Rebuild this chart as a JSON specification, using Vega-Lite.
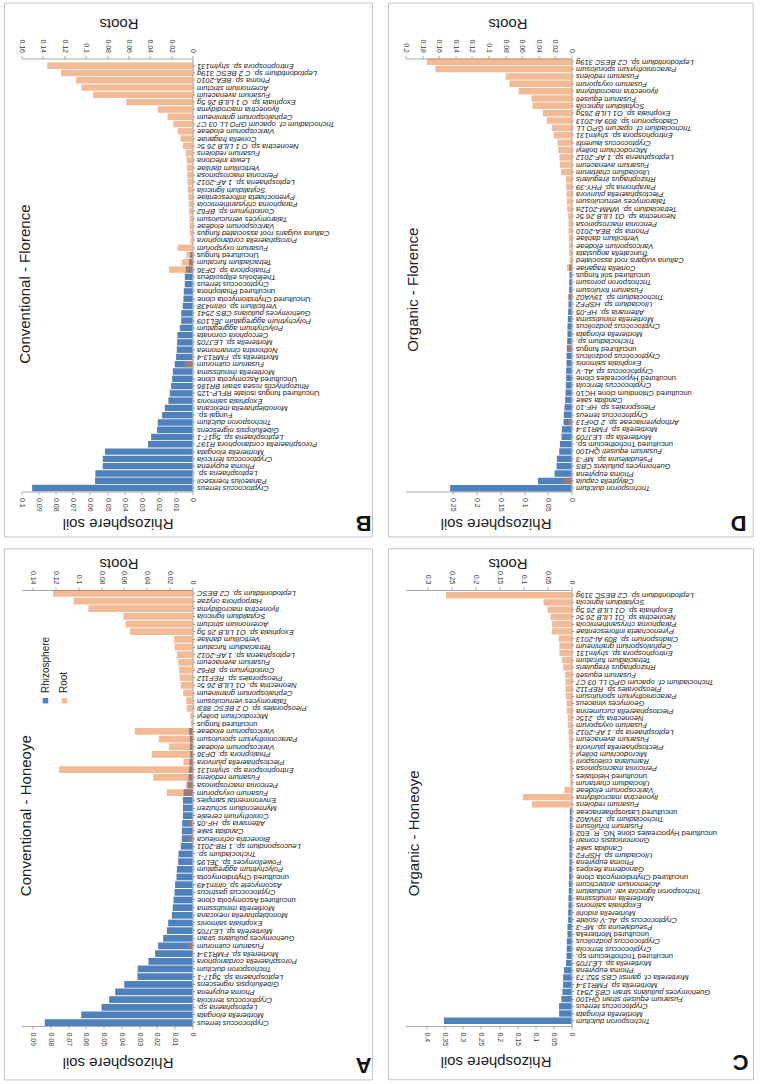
{
  "$schema": "https://vega.github.io/schema/vega-lite/v6.json",
  "background": "white",
  "padding": {"left": 3.5, "top": 2.5, "right": 0, "bottom": 3},
  "config": {"font": "Liberation Sans", "view": {"stroke": null}, "axis": {"grid": false, "labelOverlap": false}},
  "columns": 2,
  "spacing": {"row": 98.5, "column": 213},
  "bounds": "flush",
  "datasets": {
    "B": [
      {"species": "Entrophospora sp. shylm131", "rhizosphere": 0, "root": 0.136},
      {"species": "Leptodontidium sp. C 2 BESC 319g", "rhizosphere": 0, "root": 0.123},
      {"species": "Phoma sp. BEA-2010", "rhizosphere": 0, "root": 0.109},
      {"species": "Acremonium strictum", "rhizosphere": 0, "root": 0.104},
      {"species": "Fusarium avenaceum", "rhizosphere": 0, "root": 0.093},
      {"species": "Exophiala sp. O 1 LILB 26 5g", "rhizosphere": 0, "root": 0.062},
      {"species": "Ilyonectria macrodidyma", "rhizosphere": 0, "root": 0.0325},
      {"species": "Cephalosporium gramineum", "rhizosphere": 0, "root": 0.0234},
      {"species": "Trichocladium cf. opacum GPO LL 03 C7", "rhizosphere": 0, "root": 0.018},
      {"species": "Varicosporium elodeae", "rhizosphere": 0, "root": 0.0138},
      {"species": "Coniella fragariae", "rhizosphere": 0, "root": 0.0113},
      {"species": "Neonectria sp. O 1 LILB 26 5c", "rhizosphere": 0, "root": 0.009},
      {"species": "Fusarium redolens", "rhizosphere": 0, "root": 0.0063},
      {"species": "Lewia infectoria", "rhizosphere": 0, "root": 0.0056},
      {"species": "Verticillium dahliae", "rhizosphere": 0, "root": 0.0053},
      {"species": "Periconia macrospinosa", "rhizosphere": 0, "root": 0.005},
      {"species": "Leptosphaeria sp. 1 AF-2012", "rhizosphere": 0, "root": 0.0047},
      {"species": "Scytalidium lignicola", "rhizosphere": 0, "root": 0.0044},
      {"species": "Pyrenochaeta inflorescentiae", "rhizosphere": 0, "root": 0.0038},
      {"species": "Paraphoma chrysanthemicola", "rhizosphere": 0, "root": 0.0034},
      {"species": "Coniothyrium sp. BF62", "rhizosphere": 0, "root": 0.0031},
      {"species": "Talaromyces verruculosum", "rhizosphere": 0, "root": 0.0028},
      {"species": "Varicosporium elodeae\u200b", "rhizosphere": 0, "root": 0.0028},
      {"species": "Calluna vulgaris root associated fungus", "rhizosphere": 0, "root": 0.0025},
      {"species": "Porosphaerella cordanophora", "rhizosphere": 0, "root": 0.0019},
      {"species": "Fusarium oxysporum", "rhizosphere": 0, "root": 0.014},
      {"species": "Uncultured fungus", "rhizosphere": 0.0014, "root": 0.0056},
      {"species": "Tetracladium furcatum", "rhizosphere": 0.002, "root": 0.01},
      {"species": "Phialophora sp. DF36", "rhizosphere": 0.0039, "root": 0.022},
      {"species": "Thelebolus ellipsoideus", "rhizosphere": 0.0045, "root": 0},
      {"species": "Cryptococcus terreus", "rhizosphere": 0.0045, "root": 0},
      {"species": "uncultured Phialophora", "rhizosphere": 0.0051, "root": 0},
      {"species": "Uncultured Chytridiomycota clone", "rhizosphere": 0.0053, "root": 0},
      {"species": "Verticillium sp. olrim438", "rhizosphere": 0.0057, "root": 0},
      {"species": "Guehomyces pullulans  CBS 2541", "rhizosphere": 0.0066, "root": 0},
      {"species": "Polychytrium aggregatum  JEL109", "rhizosphere": 0.0066, "root": 0},
      {"species": "Polychytrium aggregatum", "rhizosphere": 0.0074, "root": 0},
      {"species": "Cercophora coronata", "rhizosphere": 0.0088, "root": 0},
      {"species": "Mortierella sp. LEJ705", "rhizosphere": 0.009, "root": 0},
      {"species": "Nothonitra cinnamomea", "rhizosphere": 0.0092, "root": 0},
      {"species": "Mortierella sp. FMR13-4", "rhizosphere": 0.0096, "root": 0},
      {"species": "Fusarium culmorum", "rhizosphere": 0.0104, "root": 0.0072},
      {"species": "Mortierella minutissima", "rhizosphere": 0.0115, "root": 0},
      {"species": "Uncultured Ascomycota clone", "rhizosphere": 0.0119, "root": 0},
      {"species": "Rhizophlyctis rosea strain BR186", "rhizosphere": 0.0125, "root": 0},
      {"species": "Uncultured fungus isolate RFLP-125", "rhizosphere": 0.0133, "root": 0},
      {"species": "Exophiala salmonis", "rhizosphere": 0.0141, "root": 0},
      {"species": "Monoblepharella mexicana", "rhizosphere": 0.0162, "root": 0},
      {"species": "Fungal sp.", "rhizosphere": 0.0178, "root": 0},
      {"species": "Trichosporon dulcitum", "rhizosphere": 0.0203, "root": 0},
      {"species": "Gibellulopsis nigrescens", "rhizosphere": 0.0207, "root": 0},
      {"species": "Leptosphaeria sp. 5g17-1", "rhizosphere": 0.0242, "root": 0},
      {"species": "Porosphaerella cordanophora R197", "rhizosphere": 0.026, "root": 0},
      {"species": "Mortierella elongata", "rhizosphere": 0.0512, "root": 0},
      {"species": "Cryptococcus terricola", "rhizosphere": 0.0525, "root": 0},
      {"species": "Phoma eupyrena", "rhizosphere": 0.0525, "root": 0},
      {"species": "Leptosphaeria sp.", "rhizosphere": 0.0568, "root": 0},
      {"species": "Panaeolus foenisecii", "rhizosphere": 0.057, "root": 0},
      {"species": "Cryptococcus terreus\u200b", "rhizosphere": 0.0938, "root": 0}
    ],
    "D": [
      {"species": "Leptodontidium sp. C2 BESC 319g", "rhizosphere": 0, "root": 0.174},
      {"species": "Paraconiothyrium sporulosum", "rhizosphere": 0, "root": 0.164},
      {"species": "Fusarium redolens", "rhizosphere": 0, "root": 0.0793},
      {"species": "Fusarium oxysporum", "rhizosphere": 0, "root": 0.0748},
      {"species": "Ilyonectria macrodidyma", "rhizosphere": 0, "root": 0.0636},
      {"species": "Fusarium equiseti", "rhizosphere": 0, "root": 0.0483},
      {"species": "Scytalidium lignicola", "rhizosphere": 0, "root": 0.0471},
      {"species": "Exophiala sp. O1 LILB 265g", "rhizosphere": 0, "root": 0.0346},
      {"species": "Cladosporium sp. 809 AI-2013", "rhizosphere": 0, "root": 0.0298},
      {"species": "Trichocladium cf. opacum GPO LL", "rhizosphere": 0, "root": 0.0233},
      {"species": "Entrophospora sp. shylm131", "rhizosphere": 0, "root": 0.0213},
      {"species": "Cryptococcus laurentii", "rhizosphere": 0, "root": 0.0169},
      {"species": "Microdochium bolleyi", "rhizosphere": 0, "root": 0.0161},
      {"species": "Leptosphaeria sp. 1 AF-2012", "rhizosphere": 0, "root": 0.0145},
      {"species": "Fusarium avenaceum", "rhizosphere": 0, "root": 0.0141},
      {"species": "Ulocladium chartarum", "rhizosphere": 0, "root": 0.0125},
      {"species": "Rhizophagus irregularis", "rhizosphere": 0, "root": 0.0068},
      {"species": "Paraphoma sp. PHY-39", "rhizosphere": 0, "root": 0.0064},
      {"species": "Plectosphaerella plurivora", "rhizosphere": 0, "root": 0.006},
      {"species": "Talaromyces verruculosum", "rhizosphere": 0, "root": 0.0056},
      {"species": "Tetracladium sp. WMM-2012a", "rhizosphere": 0, "root": 0.0052},
      {"species": "Neonectria sp. O1 LILB 26 5c", "rhizosphere": 0, "root": 0.004},
      {"species": "Periconia macrospinosa", "rhizosphere": 0, "root": 0.0036},
      {"species": "Phoma sp. BEA-2010", "rhizosphere": 0, "root": 0.0036},
      {"species": "Verticillium dahliae", "rhizosphere": 0, "root": 0.0032},
      {"species": "Varicosporium elodeae", "rhizosphere": 0, "root": 0.0028},
      {"species": "Truncatella angustata", "rhizosphere": 0, "root": 0.0028},
      {"species": "Calluna vulgaris root associated", "rhizosphere": 0, "root": 0.0024},
      {"species": "Coniella fragariae", "rhizosphere": 0.005, "root": 0.0056},
      {"species": "uncultured soil fungus", "rhizosphere": 0.0042, "root": 0},
      {"species": "Trichosporon porosum", "rhizosphere": 0.0049, "root": 0},
      {"species": "Fusarium torulosum", "rhizosphere": 0.0049, "root": 0},
      {"species": "Trichocladium sp. 19VA02", "rhizosphere": 0.0063, "root": 0.0036},
      {"species": "Ulocladium sp. HSPF2", "rhizosphere": 0.0063, "root": 0},
      {"species": "Alternaria sp. HF-05", "rhizosphere": 0.007, "root": 0},
      {"species": "Mortierella minutissima", "rhizosphere": 0.0077, "root": 0},
      {"species": "Cryptococcus podzolicus", "rhizosphere": 0.0084, "root": 0},
      {"species": "Mortierella elongata", "rhizosphere": 0.0084, "root": 0},
      {"species": "Trichocladium sp.", "rhizosphere": 0.0091, "root": 0},
      {"species": "uncultured fungus", "rhizosphere": 0.0098, "root": 0.004},
      {"species": "Cryptococcus podzolicus\u200b", "rhizosphere": 0.0105, "root": 0},
      {"species": "Exophiala salmonis", "rhizosphere": 0.0105, "root": 0},
      {"species": "Cryptococcus sp. AL-V", "rhizosphere": 0.0112, "root": 0},
      {"species": "uncultured Hypocreales clone", "rhizosphere": 0.0112, "root": 0},
      {"species": "Cryptococcus terricola", "rhizosphere": 0.0119, "root": 0},
      {"species": "uncultured Chloridium clone HC10", "rhizosphere": 0.0126, "root": 0},
      {"species": "Candida sake", "rhizosphere": 0.0133, "root": 0},
      {"species": "Pleosporales sp. HF-10", "rhizosphere": 0.0147, "root": 0},
      {"species": "Cryptococcus terreus", "rhizosphere": 0.0161, "root": 0},
      {"species": "Arthopyreniaceae sp. 2 DoF13", "rhizosphere": 0.0168, "root": 0.004},
      {"species": "Mortierella sp. FMR13-4", "rhizosphere": 0.0203, "root": 0},
      {"species": "Mortierella sp. LEJ705", "rhizosphere": 0.021, "root": 0},
      {"species": "uncultured Trichothecium sp.", "rhizosphere": 0.0245, "root": 0},
      {"species": "Fusarium equiseti QH100", "rhizosphere": 0.0259, "root": 0},
      {"species": "Pseudaleuria sp. MF-3", "rhizosphere": 0.0308, "root": 0},
      {"species": "Guehomyces pullulans CBS", "rhizosphere": 0.0315, "root": 0},
      {"species": "Phoma eupyrena", "rhizosphere": 0.0357, "root": 0},
      {"species": "Calyptella capula", "rhizosphere": 0.0707, "root": 0.0089},
      {"species": "Trichosporon dulcitum", "rhizosphere": 0.2556, "root": 0}
    ],
    "A": [
      {"species": "Leptodontidium sp. C2 BESC", "rhizosphere": 0, "root": 0.122},
      {"species": "Harpophora oryzae", "rhizosphere": 0, "root": 0.104},
      {"species": "Ilyonectria macrodidyma", "rhizosphere": 0, "root": 0.091},
      {"species": "Scytalidium lignicola", "rhizosphere": 0, "root": 0.0604},
      {"species": "Acremonium strictum", "rhizosphere": 0, "root": 0.0586},
      {"species": "Exophiala sp. O1 LILB 26 5g", "rhizosphere": 0, "root": 0.0548},
      {"species": "Verticillium dahliae", "rhizosphere": 0, "root": 0.0163},
      {"species": "Tetracladium furcatum", "rhizosphere": 0, "root": 0.0155},
      {"species": "Leptosphaeria sp. 1 AF-2012", "rhizosphere": 0, "root": 0.0137},
      {"species": "Fusarium avenaceum", "rhizosphere": 0, "root": 0.0125},
      {"species": "Coniothyrium sp. BF62", "rhizosphere": 0, "root": 0.0117},
      {"species": "Pleosporales sp. REF112", "rhizosphere": 0, "root": 0.0111},
      {"species": "Neonectria sp. O1 LILB 26 5c", "rhizosphere": 0, "root": 0.0102},
      {"species": "Cephalosporium gramineum", "rhizosphere": 0, "root": 0.0082},
      {"species": "Talaromyces verruculosum", "rhizosphere": 0, "root": 0.0055},
      {"species": "Pleosporales sp. O 2 BESC 883i", "rhizosphere": 0, "root": 0.0052},
      {"species": "Microdochium bolleyi", "rhizosphere": 0, "root": 0.002},
      {"species": "uncultured fungus", "rhizosphere": 0, "root": 0.0015},
      {"species": "Varicosporium elodeae", "rhizosphere": 0.0019, "root": 0.0505},
      {"species": "Paraconiothyrium sporulosum", "rhizosphere": 0.0015, "root": 0.0295},
      {"species": "Varicosporium elodeae\u200b", "rhizosphere": 0.0015, "root": 0.0207},
      {"species": "Phialophora sp. DF36", "rhizosphere": 0.0013, "root": 0.0356},
      {"species": "Plectosphaerella plurivora", "rhizosphere": 0.0017, "root": 0.0079},
      {"species": "Entrophospora sp. shylm131", "rhizosphere": 0.0019, "root": 0.1167},
      {"species": "Fusarium redolens", "rhizosphere": 0.0023, "root": 0.0344},
      {"species": "Periconia macrospinosa", "rhizosphere": 0.0028, "root": 0.0058},
      {"species": "Fusarium oxysporum", "rhizosphere": 0.005, "root": 0.0225},
      {"species": "Environmental samples", "rhizosphere": 0.0054, "root": 0},
      {"species": "Myrmecridium schulzeri", "rhizosphere": 0.0054, "root": 0},
      {"species": "Coniothyrium cereale", "rhizosphere": 0.0054, "root": 0},
      {"species": "Alternaria sp. HF-05", "rhizosphere": 0.0058, "root": 0.003},
      {"species": "Candida sake", "rhizosphere": 0.006, "root": 0},
      {"species": "Bionectria ochroleuca", "rhizosphere": 0.006, "root": 0.003},
      {"species": "Leucosporidium sp. 1 RB-2011", "rhizosphere": 0.0066, "root": 0},
      {"species": "Trichocladium sp.", "rhizosphere": 0.0079, "root": 0},
      {"species": "Powellomyces sp. JEL95", "rhizosphere": 0.0081, "root": 0},
      {"species": "Polychytrium aggregatum", "rhizosphere": 0.0088, "root": 0},
      {"species": "uncultured Chytridiomycota", "rhizosphere": 0.009, "root": 0},
      {"species": "Ascomycete sp. olrim149", "rhizosphere": 0.0098, "root": 0},
      {"species": "Cryptococcus gastricus", "rhizosphere": 0.0101, "root": 0},
      {"species": "uncultured Ascomycota clone", "rhizosphere": 0.0107, "root": 0},
      {"species": "Mortierella minutissima", "rhizosphere": 0.0111, "root": 0},
      {"species": "Monoblepharella mexicana", "rhizosphere": 0.0116, "root": 0},
      {"species": "Exophiala salmonis", "rhizosphere": 0.0137, "root": 0},
      {"species": "Mortierella sp. LEJ705", "rhizosphere": 0.0144, "root": 0},
      {"species": "Guehomyces pullulans strain", "rhizosphere": 0.0165, "root": 0},
      {"species": "Fusarium culmorum", "rhizosphere": 0.0193, "root": 0.0035},
      {"species": "Mortierella sp. FMR13-4", "rhizosphere": 0.021, "root": 0},
      {"species": "Porosphaerella cordanophora", "rhizosphere": 0.0248, "root": 0},
      {"species": "Trichosporon dulcitum", "rhizosphere": 0.0308, "root": 0},
      {"species": "Leptosphaeria sp. 5g17-1", "rhizosphere": 0.031, "root": 0},
      {"species": "Gibellulopsis nigrescens", "rhizosphere": 0.0384, "root": 0},
      {"species": "Phoma eupyrena", "rhizosphere": 0.0435, "root": 0},
      {"species": "Cryptococcus terricola", "rhizosphere": 0.0469, "root": 0},
      {"species": "Leptosphaeria sp.", "rhizosphere": 0.0512, "root": 0},
      {"species": "Mortierella elongata", "rhizosphere": 0.0626, "root": 0},
      {"species": "Cryptococcus terreus", "rhizosphere": 0.0831, "root": 0}
    ],
    "C": [
      {"species": "Leptodontidium sp. C2 BESC 319g", "rhizosphere": 0, "root": 0.2617},
      {"species": "Scytalidium lignicola", "rhizosphere": 0, "root": 0.058},
      {"species": "Exophiala sp. O1 LILB 26 5g", "rhizosphere": 0, "root": 0.0502},
      {"species": "Neonectria sp. O1 LILB 26 5c", "rhizosphere": 0, "root": 0.044},
      {"species": "Paraphoma chrysanthemicola", "rhizosphere": 0, "root": 0.0405},
      {"species": "Pyrenochaeta inflorescentiae", "rhizosphere": 0, "root": 0.0405},
      {"species": "Cladosporium sp. 809 AI-2013", "rhizosphere": 0, "root": 0.0265},
      {"species": "Cephalosporium gramineum", "rhizosphere": 0, "root": 0.0251},
      {"species": "Entrophospora sp. shylm131", "rhizosphere": 0, "root": 0.0251},
      {"species": "Tetracladium furcatum", "rhizosphere": 0, "root": 0.0202},
      {"species": "Rhizophagus irregularis", "rhizosphere": 0, "root": 0.0174},
      {"species": "Fusarium equiseti", "rhizosphere": 0, "root": 0.0133},
      {"species": "Trichocladium cf. opacum GPO LL 03 C7", "rhizosphere": 0, "root": 0.0126},
      {"species": "Pleosporales sp. REF112", "rhizosphere": 0, "root": 0.0126},
      {"species": "Paraconiothyrium sporulosum", "rhizosphere": 0, "root": 0.0119},
      {"species": "Geomyces vinaceus", "rhizosphere": 0, "root": 0.0105},
      {"species": "Plectosphaerella cucumerina", "rhizosphere": 0, "root": 0.0098},
      {"species": "Neonectria sp. 215c", "rhizosphere": 0, "root": 0.0077},
      {"species": "Fusarium oxysporum", "rhizosphere": 0, "root": 0.007},
      {"species": "Leptosphaeria sp. 1 AF-2012", "rhizosphere": 0, "root": 0.0063},
      {"species": "Fusarium avenaceum", "rhizosphere": 0, "root": 0.0056},
      {"species": "Plectosphaerella plurivora", "rhizosphere": 0, "root": 0.0049},
      {"species": "Microdochium bolleyi", "rhizosphere": 0, "root": 0.0042},
      {"species": "Ramularia coleosporii", "rhizosphere": 0, "root": 0.0042},
      {"species": "Periconia macrospinosa", "rhizosphere": 0, "root": 0.0035},
      {"species": "uncultured Helotiales", "rhizosphere": 0, "root": 0.0028},
      {"species": "Ulocladium chartarum", "rhizosphere": 0, "root": 0.0028},
      {"species": "Varicosporium elodeae", "rhizosphere": 0, "root": 0.0147},
      {"species": "Ilyonectria macrodidyma", "rhizosphere": 0, "root": 0.1012},
      {"species": "Fusarium redolens", "rhizosphere": 0, "root": 0.0823},
      {"species": "uncultured Lasiosphaeriaceae", "rhizosphere": 0.0046, "root": 0},
      {"species": "Trichocladium sp. 19VA02", "rhizosphere": 0.0046, "root": 0},
      {"species": "Fusarium torulosum", "rhizosphere": 0.0046, "root": 0},
      {"species": "uncultured Hypocreales clone NG_R_E02", "rhizosphere": 0.0046, "root": 0},
      {"species": "Gnomoniopsis comari", "rhizosphere": 0.0056, "root": 0},
      {"species": "Candida sake", "rhizosphere": 0.0056, "root": 0},
      {"species": "Ulocladium sp. HSPF2", "rhizosphere": 0.0056, "root": 0},
      {"species": "Phoma eupyrena", "rhizosphere": 0.0056, "root": 0},
      {"species": "Ganoderma flexipes", "rhizosphere": 0.0065, "root": 0},
      {"species": "uncultured Chytridiomycota clone", "rhizosphere": 0.0065, "root": 0},
      {"species": "Acremonium antarcticum", "rhizosphere": 0.0074, "root": 0},
      {"species": "Trichosporon lignicola var. undulatum", "rhizosphere": 0.0074, "root": 0},
      {"species": "Mortierella minutissima", "rhizosphere": 0.0083, "root": 0},
      {"species": "Exophiala salmonis", "rhizosphere": 0.0083, "root": 0},
      {"species": "Mortierella indohii", "rhizosphere": 0.0093, "root": 0},
      {"species": "Cryptococcus sp. AL-V isolate", "rhizosphere": 0.0093, "root": 0},
      {"species": "Pseudaleuria sp. MF-3", "rhizosphere": 0.0111, "root": 0},
      {"species": "uncultured Mortierella", "rhizosphere": 0.0111, "root": 0},
      {"species": "Cryptococcus podzolicus", "rhizosphere": 0.013, "root": 0},
      {"species": "Cryptococcus terricola", "rhizosphere": 0.013, "root": 0},
      {"species": "uncultured Trichothecium sp.", "rhizosphere": 0.0139, "root": 0},
      {"species": "Mortierella sp. LEJ705", "rhizosphere": 0.0148, "root": 0},
      {"species": "Phoma eupyrena\u200b", "rhizosphere": 0.0204, "root": 0},
      {"species": "Mortierella cf. gamsii CBS 552.73", "rhizosphere": 0.0231, "root": 0},
      {"species": "Mortierella sp. FMR13-4", "rhizosphere": 0.0231, "root": 0},
      {"species": "Guehomyces pullulans strain CBS 2541", "rhizosphere": 0.025, "root": 0},
      {"species": "Fusarium equiseti strain QH100", "rhizosphere": 0.0278, "root": 0},
      {"species": "Cryptococcus terreus", "rhizosphere": 0.0343, "root": 0},
      {"species": "Mortierella elongata", "rhizosphere": 0.0343, "root": 0},
      {"species": "Trichosporon dulcitum", "rhizosphere": 0.352, "root": 0}
    ]
  },
  "concat": [
    {
      "width": 171, "height": 433,
      "data": {"name": "B"},
      "layer": [
        {"mark": {"type": "bar", "color": "#4f81bd"},
         "encoding": {
           "y": {"field": "species", "type": "nominal", "sort": null, "title": null,
             "scale": {"paddingInner": 0.12, "paddingOuter": 0.3, "align": 0.93},
             "axis": {"orient": "right", "title": null, "labelAngle": 180, "labelAlign": "right", "labelBaseline": "middle", "labelFontSize": 7.6, "labelFontStyle": {"condition": {"test": "indexof(lower(datum.value), 'uncultured') === 0 || indexof(datum.value, 'Environmental') === 0 || indexof(datum.value, 'Fungal') === 0", "value": "normal"}, "value": "italic"}, "labelColor": "#1a1a1a", "labelPadding": 2, "labelOverlap": false, "labelLimit": 300, "tickSize": 2, "tickColor": "#999", "domainColor": "#999"}},
           "x": {"field": "rhizosphere", "type": "quantitative",
             "scale": {"domain": [0, 0.1], "reverse": true, "nice": false, "zero": true},
             "axis": {"orient": "bottom", "values": [0, 0.01, 0.02, 0.03, 0.04, 0.05, 0.06, 0.07, 0.08, 0.09, 0.1], "format": "~g", "title": "Rhizosphere soil", "titleX": 96, "titleY": 31.5, "labelAngle": 90, "labelAlign": "left", "labelBaseline": "middle", "labelFontSize": 7, "labelColor": "#404040", "labelPadding": 3, "labelFlush": false, "labelOverlap": false, "tickSize": 3, "tickColor": "#aaa", "domainColor": "#aaa", "titleFontSize": 15, "titleFontWeight": "normal", "titleColor": "#222", "titleAngle": 180, "titleAlign": "center", "titleBaseline": "middle"}}
         }},
        {"mark": {"type": "bar", "color": "#e8762d", "opacity": 0.5},
         "encoding": {
           "y": {"field": "species", "type": "nominal", "sort": null, "title": null},
           "x": {"field": "root", "type": "quantitative",
             "scale": {"domain": [0, 0.16], "reverse": true, "nice": false, "zero": true},
             "axis": {"orient": "top", "values": [0, 0.02, 0.04, 0.06, 0.08, 0.1, 0.12, 0.14, 0.16], "format": "~g", "title": "Roots", "titleX": 97, "titleY": -35.5, "labelAngle": 90, "labelAlign": "right", "labelBaseline": "middle", "labelFontSize": 7, "labelColor": "#404040", "labelPadding": 3, "labelFlush": false, "labelOverlap": false, "tickSize": 3, "tickColor": "#aaa", "domainColor": "#aaa", "titleFontSize": 15, "titleFontWeight": "normal", "titleColor": "#222", "titleAngle": 180, "titleAlign": "center", "titleBaseline": "middle"}}
         }},
        {"data": {"values": [{}]},
         "mark": {"type": "text", "text": "Conventional - Florence", "angle": 270, "fontSize": 15, "align": "center", "baseline": "middle", "color": "#222"},
         "encoding": {
           "x": {"datum": 0.1563, "type": "quantitative", "scale": {"domain": [0, 0.16], "reverse": true, "nice": false, "zero": true}, "axis": null},
           "y": {"datum": "Cryptococcus terreus", "type": "nominal"}
         }},
        {"data": {"values": [{}]},
         "mark": {"type": "text", "text": "B", "angle": 180, "fontSize": 22, "fontWeight": "bold", "align": "center", "baseline": "middle", "dy": -35, "color": "#111"},
         "encoding": {
           "x": {"datum": -0.16, "type": "quantitative", "scale": {"domain": [0, 0.16], "reverse": true, "nice": false, "zero": true}, "axis": null},
           "y": {"datum": "Cryptococcus terreus\u200b", "type": "nominal"}
         }},
        {"data": {"values": [{}]},
         "mark": {"type": "rect", "filled": false, "stroke": "#c4c4c4", "strokeWidth": 1, "yOffset": -62.75, "y2Offset": 49},
         "encoding": {
           "x": {"datum": 0.1759, "type": "quantitative", "scale": {"domain": [0, 0.16], "reverse": true, "nice": false, "zero": true}, "axis": null},
           "x2": {"datum": -0.1684},
           "y": {"datum": "Entrophospora sp. shylm131", "type": "nominal"},
           "y2": {"datum": "Cryptococcus terreus\u200b"}
         }}
      ],
      "resolve": {"scale": {"x": "independent"}, "axis": {"x": "independent"}}
    },
    {
      "width": 166, "height": 433,
      "data": {"name": "D"},
      "layer": [
        {"mark": {"type": "bar", "color": "#4f81bd"},
         "encoding": {
           "y": {"field": "species", "type": "nominal", "sort": null, "title": null,
             "scale": {"paddingInner": 0.12, "paddingOuter": 0, "align": 0.5},
             "axis": {"orient": "right", "title": null, "labelAngle": 180, "labelAlign": "right", "labelBaseline": "middle", "labelFontSize": 7.6, "labelFontStyle": {"condition": {"test": "indexof(lower(datum.value), 'uncultured') === 0 || indexof(datum.value, 'Environmental') === 0 || indexof(datum.value, 'Fungal') === 0", "value": "normal"}, "value": "italic"}, "labelColor": "#1a1a1a", "labelPadding": 2, "labelOverlap": false, "labelLimit": 300, "tickSize": 2, "tickColor": "#999", "domainColor": "#999"}},
           "x": {"field": "rhizosphere", "type": "quantitative",
             "scale": {"domain": [0, 0.3496], "reverse": true, "nice": false, "zero": true},
             "axis": {"orient": "bottom", "values": [0, 0.05, 0.1, 0.15, 0.2, 0.25], "format": "~g", "title": "Rhizosphere soil", "titleX": 90, "titleY": 31.5, "labelAngle": 90, "labelAlign": "left", "labelBaseline": "middle", "labelFontSize": 7, "labelColor": "#404040", "labelPadding": 3, "labelFlush": false, "labelOverlap": false, "tickSize": 3, "tickColor": "#aaa", "domainColor": "#aaa", "titleFontSize": 15, "titleFontWeight": "normal", "titleColor": "#222", "titleAngle": 180, "titleAlign": "center", "titleBaseline": "middle"}}
         }},
        {"mark": {"type": "bar", "color": "#e8762d", "opacity": 0.5},
         "encoding": {
           "y": {"field": "species", "type": "nominal", "sort": null, "title": null},
           "x": {"field": "root", "type": "quantitative",
             "scale": {"domain": [0, 0.2], "reverse": true, "nice": false, "zero": true},
             "axis": {"orient": "top", "values": [0, 0.02, 0.04, 0.06, 0.08, 0.1, 0.12, 0.14, 0.16, 0.18, 0.2], "format": "~g", "title": "Roots", "titleX": 102, "titleY": -35.5, "labelAngle": 90, "labelAlign": "right", "labelBaseline": "middle", "labelFontSize": 7, "labelColor": "#404040", "labelPadding": 3, "labelFlush": false, "labelOverlap": false, "tickSize": 3, "tickColor": "#aaa", "domainColor": "#aaa", "titleFontSize": 15, "titleFontWeight": "normal", "titleColor": "#222", "titleAngle": 180, "titleAlign": "center", "titleBaseline": "middle"}}
         }},
        {"data": {"values": [{}]},
         "mark": {"type": "text", "text": "Organic - Florence", "angle": 270, "fontSize": 15, "align": "center", "baseline": "middle", "color": "#222"},
         "encoding": {
           "x": {"datum": 0.1904, "type": "quantitative", "scale": {"domain": [0, 0.2], "reverse": true, "nice": false, "zero": true}, "axis": null},
           "y": {"datum": "Fusarium torulosum", "type": "nominal"}
         }},
        {"data": {"values": [{}]},
         "mark": {"type": "text", "text": "D", "angle": 180, "fontSize": 22, "fontWeight": "bold", "align": "center", "baseline": "middle", "dy": -35, "color": "#111"},
         "encoding": {
           "x": {"datum": -0.2012, "type": "quantitative", "scale": {"domain": [0, 0.2], "reverse": true, "nice": false, "zero": true}, "axis": null},
           "y": {"datum": "Trichosporon dulcitum", "type": "nominal"}
         }},
        {"data": {"values": [{}]},
         "mark": {"type": "rect", "filled": false, "stroke": "#c4c4c4", "strokeWidth": 1, "yOffset": -58.7, "y2Offset": 48.7},
         "encoding": {
           "x": {"datum": 0.2205, "type": "quantitative", "scale": {"domain": [0, 0.2], "reverse": true, "nice": false, "zero": true}, "axis": null},
           "x2": {"datum": -0.2189},
           "y": {"datum": "Leptodontidium sp. C2 BESC 319g", "type": "nominal"},
           "y2": {"datum": "Trichosporon dulcitum"}
         }}
      ],
      "resolve": {"scale": {"x": "independent"}, "axis": {"x": "independent"}}
    },
    {
      "width": 171, "height": 436,
      "data": {"name": "A"},
      "layer": [
        {"mark": {"type": "bar", "color": "#4f81bd"},
         "encoding": {
           "y": {"field": "species", "type": "nominal", "sort": null, "title": null,
             "scale": {"paddingInner": 0.12, "paddingOuter": 0, "align": 0.5},
             "axis": {"orient": "right", "title": null, "labelAngle": 180, "labelAlign": "right", "labelBaseline": "middle", "labelFontSize": 7.6, "labelFontStyle": {"condition": {"test": "indexof(lower(datum.value), 'uncultured') === 0 || indexof(datum.value, 'Environmental') === 0 || indexof(datum.value, 'Fungal') === 0", "value": "normal"}, "value": "italic"}, "labelColor": "#1a1a1a", "labelPadding": 2, "labelOverlap": false, "labelLimit": 300, "tickSize": 2, "tickColor": "#999", "domainColor": "#999"}},
           "x": {"field": "rhizosphere", "type": "quantitative",
             "scale": {"domain": [0, 0.0962], "reverse": true, "nice": false, "zero": true},
             "axis": {"orient": "bottom", "values": [0, 0.01, 0.02, 0.03, 0.04, 0.05, 0.06, 0.07, 0.08, 0.09], "format": "~g", "title": "Rhizosphere soil", "titleX": 96, "titleY": 36, "labelAngle": 90, "labelAlign": "left", "labelBaseline": "middle", "labelFontSize": 7, "labelColor": "#404040", "labelPadding": 3, "labelFlush": false, "labelOverlap": false, "tickSize": 3, "tickColor": "#aaa", "domainColor": "#aaa", "titleFontSize": 15, "titleFontWeight": "normal", "titleColor": "#222", "titleAngle": 180, "titleAlign": "center", "titleBaseline": "middle"}}
         }},
        {"mark": {"type": "bar", "color": "#e8762d", "opacity": 0.5},
         "encoding": {
           "y": {"field": "species", "type": "nominal", "sort": null, "title": null},
           "x": {"field": "root", "type": "quantitative",
             "scale": {"domain": [0, 0.1496], "reverse": true, "nice": false, "zero": true},
             "axis": {"orient": "top", "values": [0, 0.02, 0.04, 0.06, 0.08, 0.1, 0.12, 0.14], "format": "~g", "title": "Roots", "titleX": 97, "titleY": -27, "labelAngle": 90, "labelAlign": "right", "labelBaseline": "middle", "labelFontSize": 7, "labelColor": "#404040", "labelPadding": 3, "labelFlush": false, "labelOverlap": false, "tickSize": 3, "tickColor": "#aaa", "domainColor": "#aaa", "titleFontSize": 15, "titleFontWeight": "normal", "titleColor": "#222", "titleAngle": 180, "titleAlign": "center", "titleBaseline": "middle"}}
         }},
        {"data": {"values": [{}]},
         "mark": {"type": "text", "text": "Conventional - Honeoye", "angle": 270, "fontSize": 15, "align": "center", "baseline": "middle", "color": "#222"},
         "encoding": {
           "x": {"datum": 0.1461, "type": "quantitative", "scale": {"domain": [0, 0.1496], "reverse": true, "nice": false, "zero": true}, "axis": null},
           "y": {"datum": "Coniothyrium cereale", "type": "nominal"}
         }},
        {"data": {"values": [{}]},
         "mark": {"type": "text", "text": "Rhizosphere", "angle": 270, "fontSize": 10, "align": "left", "baseline": "middle", "color": "#222"},
         "encoding": {
           "x": {"datum": 0.1286, "type": "quantitative", "scale": {"domain": [0, 0.1496], "reverse": true, "nice": false, "zero": true}, "axis": null},
           "y": {"datum": "Cephalosporium gramineum", "type": "nominal"}
         }},
        {"data": {"values": [{}]},
         "mark": {"type": "text", "text": "Root", "angle": 270, "fontSize": 10, "align": "left", "baseline": "middle", "color": "#222"},
         "encoding": {
           "x": {"datum": 0.112, "type": "quantitative", "scale": {"domain": [0, 0.1496], "reverse": true, "nice": false, "zero": true}, "axis": null},
           "y": {"datum": "Cephalosporium gramineum", "type": "nominal"}
         }},
        {"data": {"values": [{}]},
         "mark": {"type": "point", "shape": "square", "filled": true, "size": 30, "opacity": 1, "color": "#4f81bd"},
         "encoding": {
           "x": {"datum": 0.1286, "type": "quantitative", "scale": {"domain": [0, 0.1496], "reverse": true, "nice": false, "zero": true}, "axis": null},
           "y": {"datum": "Talaromyces verruculosum", "type": "nominal"}
         }},
        {"data": {"values": [{}]},
         "mark": {"type": "point", "shape": "square", "filled": true, "size": 30, "opacity": 1, "color": "#f3ba96"},
         "encoding": {
           "x": {"datum": 0.112, "type": "quantitative", "scale": {"domain": [0, 0.1496], "reverse": true, "nice": false, "zero": true}, "axis": null},
           "y": {"datum": "Talaromyces verruculosum", "type": "nominal"}
         }},
        {"data": {"values": [{}]},
         "mark": {"type": "text", "text": "A", "angle": 180, "fontSize": 22, "fontWeight": "bold", "align": "center", "baseline": "middle", "dy": -42.5, "color": "#111"},
         "encoding": {
           "x": {"datum": -0.1496, "type": "quantitative", "scale": {"domain": [0, 0.1496], "reverse": true, "nice": false, "zero": true}, "axis": null},
           "y": {"datum": "Cryptococcus terreus", "type": "nominal"}
         }},
        {"data": {"values": [{}]},
         "mark": {"type": "rect", "filled": false, "stroke": "#c4c4c4", "strokeWidth": 1, "yOffset": -44.5, "y2Offset": 57.3},
         "encoding": {
           "x": {"datum": 0.1645, "type": "quantitative", "scale": {"domain": [0, 0.1496], "reverse": true, "nice": false, "zero": true}, "axis": null},
           "x2": {"datum": -0.1575},
           "y": {"datum": "Leptodontidium sp. C2 BESC", "type": "nominal"},
           "y2": {"datum": "Cryptococcus terreus"}
         }}
      ],
      "resolve": {"scale": {"x": "independent"}, "axis": {"x": "independent"}}
    },
    {
      "width": 166, "height": 436,
      "data": {"name": "C"},
      "layer": [
        {"mark": {"type": "bar", "color": "#4f81bd"},
         "encoding": {
           "y": {"field": "species", "type": "nominal", "sort": null, "title": null,
             "scale": {"paddingInner": 0.12, "paddingOuter": 0.29, "align": 0.5},
             "axis": {"orient": "right", "title": null, "labelAngle": 180, "labelAlign": "right", "labelBaseline": "middle", "labelFontSize": 7.6, "labelFontStyle": {"condition": {"test": "indexof(lower(datum.value), 'uncultured') === 0 || indexof(datum.value, 'Environmental') === 0 || indexof(datum.value, 'Fungal') === 0", "value": "normal"}, "value": "italic"}, "labelColor": "#1a1a1a", "labelPadding": 2, "labelOverlap": false, "labelLimit": 300, "tickSize": 2, "tickColor": "#999", "domainColor": "#999"}},
           "x": {"field": "rhizosphere", "type": "quantitative",
             "scale": {"domain": [0, 0.458], "reverse": true, "nice": false, "zero": true},
             "axis": {"orient": "bottom", "values": [0, 0.05, 0.1, 0.15, 0.2, 0.25, 0.3, 0.35, 0.4], "format": "~g", "title": "Rhizosphere soil", "titleX": 90, "titleY": 35, "labelAngle": 90, "labelAlign": "left", "labelBaseline": "middle", "labelFontSize": 7, "labelColor": "#404040", "labelPadding": 3, "labelFlush": false, "labelOverlap": false, "tickSize": 3, "tickColor": "#aaa", "domainColor": "#aaa", "titleFontSize": 15, "titleFontWeight": "normal", "titleColor": "#222", "titleAngle": 180, "titleAlign": "center", "titleBaseline": "middle"}}
         }},
        {"mark": {"type": "bar", "color": "#e8762d", "opacity": 0.5},
         "encoding": {
           "y": {"field": "species", "type": "nominal", "sort": null, "title": null},
           "x": {"field": "root", "type": "quantitative",
             "scale": {"domain": [0, 0.3458], "reverse": true, "nice": false, "zero": true},
             "axis": {"orient": "top", "values": [0, 0.05, 0.1, 0.15, 0.2, 0.25, 0.3], "format": "~g", "title": "Roots", "titleX": 102, "titleY": -27, "labelAngle": 90, "labelAlign": "right", "labelBaseline": "middle", "labelFontSize": 7, "labelColor": "#404040", "labelPadding": 3, "labelFlush": false, "labelOverlap": false, "tickSize": 3, "tickColor": "#aaa", "domainColor": "#aaa", "titleFontSize": 15, "titleFontWeight": "normal", "titleColor": "#222", "titleAngle": 180, "titleAlign": "center", "titleBaseline": "middle"}}
         }},
        {"data": {"values": [{}]},
         "mark": {"type": "text", "text": "Organic - Honeoye", "angle": 270, "fontSize": 15, "align": "center", "baseline": "middle", "color": "#222"},
         "encoding": {
           "x": {"datum": 0.3291, "type": "quantitative", "scale": {"domain": [0, 0.3458], "reverse": true, "nice": false, "zero": true}, "axis": null},
           "y": {"datum": "uncultured Hypocreales clone NG_R_E02", "type": "nominal"}
         }},
        {"data": {"values": [{}]},
         "mark": {"type": "text", "text": "C", "angle": 180, "fontSize": 22, "fontWeight": "bold", "align": "center", "baseline": "middle", "dy": -41, "color": "#111"},
         "encoding": {
           "x": {"datum": -0.352, "type": "quantitative", "scale": {"domain": [0, 0.3458], "reverse": true, "nice": false, "zero": true}, "axis": null},
           "y": {"datum": "Trichosporon dulcitum", "type": "nominal"}
         }},
        {"data": {"values": [{}]},
         "mark": {"type": "rect", "filled": false, "stroke": "#c4c4c4", "strokeWidth": 1, "yOffset": -46.5, "y2Offset": 59},
         "encoding": {
           "x": {"datum": 0.3812, "type": "quantitative", "scale": {"domain": [0, 0.3458], "reverse": true, "nice": false, "zero": true}, "axis": null},
           "x2": {"datum": -0.3791},
           "y": {"datum": "Leptodontidium sp. C2 BESC 319g", "type": "nominal"},
           "y2": {"datum": "Trichosporon dulcitum"}
         }}
      ],
      "resolve": {"scale": {"x": "independent"}, "axis": {"x": "independent"}}
    }
  ]
}
